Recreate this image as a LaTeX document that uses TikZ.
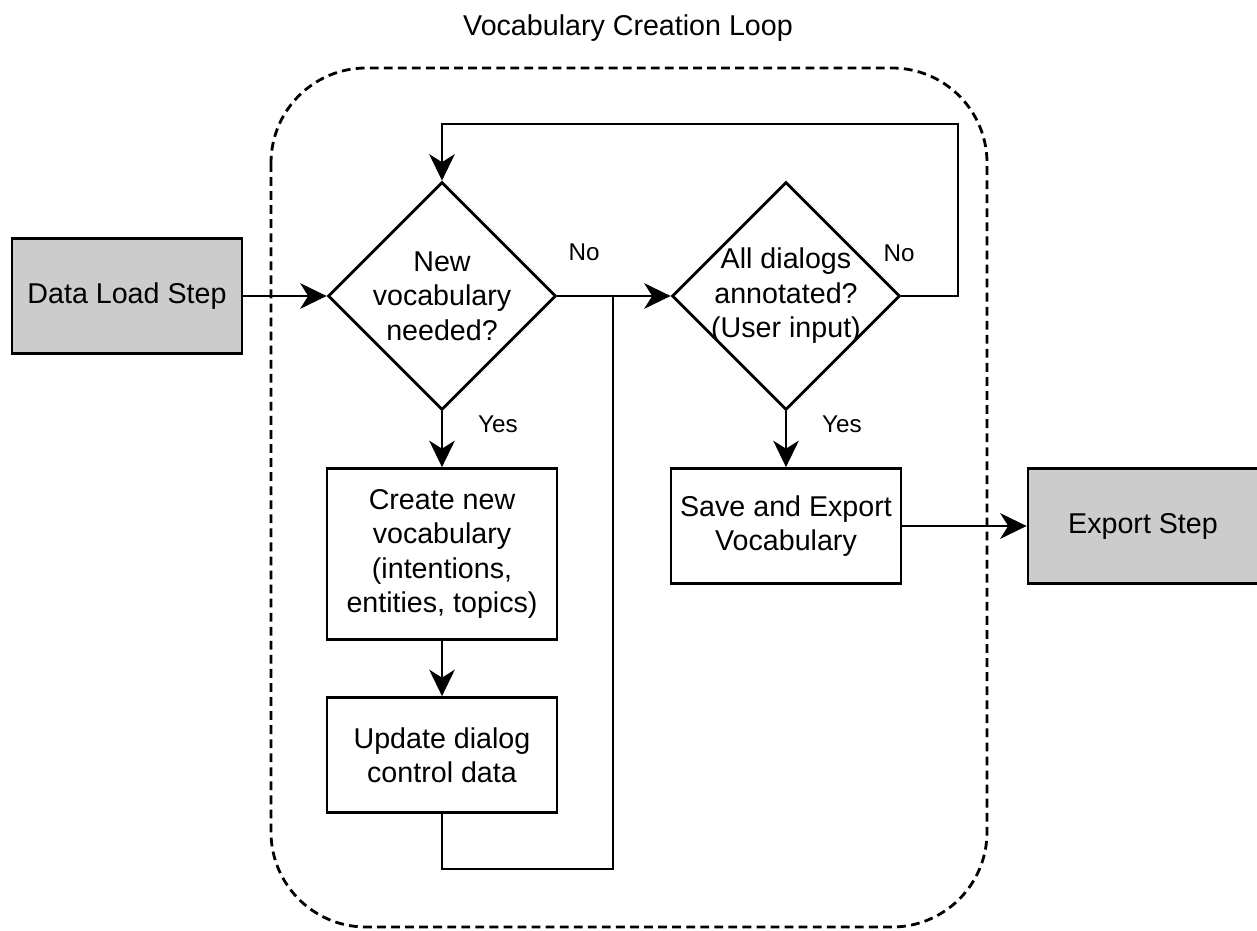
\documentclass[tikz,border=0pt]{standalone}
\usepackage{fontspec}
\setmainfont{Liberation Sans}
\usepackage{tikz}
\usetikzlibrary{shapes.geometric,arrows.meta}

\begin{document}
\begin{tikzpicture}[x=0.02cm, y=-0.02cm, line width=1.6pt,
  font=\fontsize{16.3}{19.6}\selectfont,
  stepbox/.style={draw, fill=black!20, minimum width=4.6cm, minimum height=2.3cm, inner sep=0pt},
  procbox/.style={draw, fill=white, minimum width=4.6cm, minimum height=2.3cm, align=center, inner sep=0pt},
  decision/.style={draw, fill=white, diamond, aspect=1, minimum width=4.56cm, minimum height=4.56cm, align=center, inner sep=-10pt},
  flowarrow/.style={-{Stealth[length=15pt, width=14.5pt, inset=4.5pt]}},
  lbl/.style={font=\fontsize{13.8}{16}\selectfont}]
\useasboundingbox (0,0) rectangle (1257,930);
% loop frame and title
\draw[dash pattern=on 5pt off 3pt, rounded corners=1.9cm] (271,68) rectangle (987,927);
\node (title) at (628,28) {Vocabulary Creation Loop};
% steps
\node[stepbox] (load) at (127,296) {Data Load Step};
\node[decision] (newvoc) at (442,296) {New\\vocabulary\\needed?};
\node[decision] (alldone) at (786,296) {All dialogs\\annotated?\\(User input)};
\node[procbox, minimum height=3.42cm] (create) at (442,554) {Create new\\vocabulary\\(intentions,\\entities, topics)};
\node[procbox] (update) at (442,755) {Update dialog\\control data};
\node[procbox] (save) at (786,526) {Save and Export\\Vocabulary};
\node[stepbox] (export) at (1143,526) {Export Step};
\coordinate (join) at (613,296);
\coordinate (joinlow) at (613,869);
\coordinate (back) at (958,124);
% connectors
\draw[flowarrow] (load) -- (newvoc.west);
\draw[flowarrow] (newvoc.east) -- (alldone.west);
\draw[flowarrow] (newvoc.south) -- (create.north);
\draw[flowarrow] (create) -- (update);
\draw (update.south) |- (joinlow) -- (join);
\draw[flowarrow] (alldone.east) -| (back) -| (newvoc.north);
\draw[flowarrow] (alldone.south) -- (save.north);
\draw[flowarrow] (save) -- (export);
% branch labels
\node[lbl] (no1) at (584,252) {No};
\node[lbl] (yes1) at (498,424) {Yes};
\node[lbl] (no2) at (899,253) {No};
\node[lbl] (yes2) at (842,424) {Yes};
\end{tikzpicture}
\end{document}
